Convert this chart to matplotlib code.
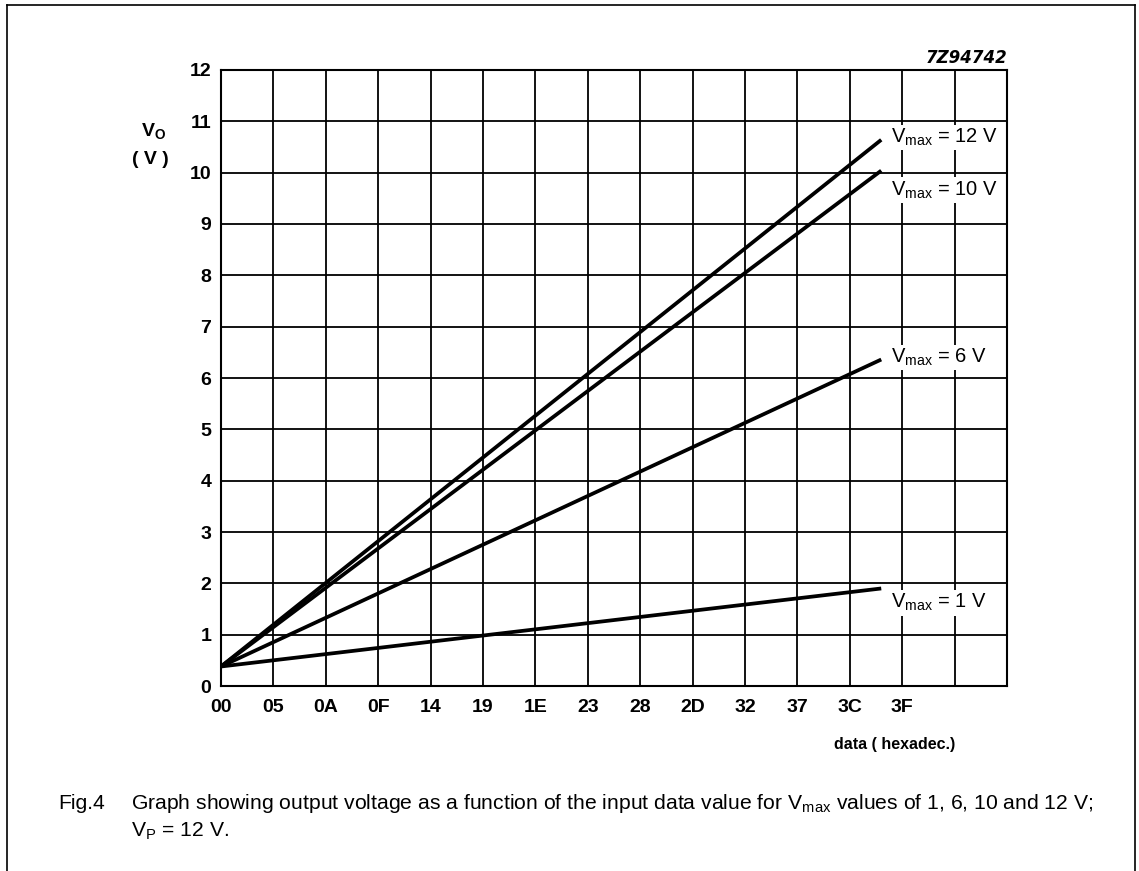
import matplotlib
matplotlib.use("Agg")
import matplotlib.pyplot as plt
from matplotlib.lines import Line2D

plt.rcParams["font.family"] = ["Liberation Sans", "DejaVu Sans"]
plt.rcParams["mathtext.default"] = "regular"

# Input data code (decimal value of the hex code) at the ends of each line
data_codes = [0x00, 0x3F]
# Output voltage (V) read at those codes
vo_12v = [0.38, 10.64]
vo_10v = [0.38, 10.04]
vo_6v = [0.38, 6.36]
vo_1v = [0.38, 1.90]

series_labels = ["V$_{max}$ = 12 V", "V$_{max}$ = 10 V", "V$_{max}$ = 6 V", "V$_{max}$ = 1 V"]
# Label anchor (x in data code, y in volts)
label_pos = [(63.9, 10.68), (63.9, 9.66), (63.9, 6.40), (63.9, 1.62)]

x_tick_labels = ["00", "05", "0A", "0F", "14", "19", "1E", "23", "28", "2D",
                 "32", "37", "3C", "3F"]
y_ticks = list(range(0, 13))

fig = plt.figure(figsize=(11.39, 8.71), dpi=100)
W, H = 1139, 871

# Frame around the figure (top, left and right rules)
fig.add_artist(Line2D([7 / W, 1135 / W], [1 - 5 / H, 1 - 5 / H], color="black", lw=1.2))
fig.add_artist(Line2D([7 / W, 7 / W], [0, 1 - 5 / H], color="black", lw=1.2))
fig.add_artist(Line2D([1135 / W, 1135 / W], [0, 1 - 5 / H], color="black", lw=1.2))

left, right, top, bottom = 221, 1007, 70, 686
ax = fig.add_axes([left / W, 1 - bottom / H, (right - left) / W, (bottom - top) / H])
ax.set_xlim(0, 75)
ax.set_ylim(0, 12)

# Grid: every 5 codes horizontally, every volt vertically
ax.set_xticks(range(0, 76, 5), minor=True)
ax.set_xticks([i * 5 for i in range(len(x_tick_labels))])
ax.set_xticklabels(x_tick_labels, fontsize=14, fontweight="bold")
ax.set_yticks(y_ticks)
ax.set_yticklabels([str(v) for v in y_ticks], fontsize=14, fontweight="bold")
ax.tick_params(which="both", length=0)
ax.tick_params(axis="x", pad=9)
ax.tick_params(axis="y", pad=7)
ax.grid(True, which="both", color="black", lw=1.3)
ax.set_axisbelow(True)
for s in ax.spines.values():
    s.set_linewidth(1.5)

for vals in (vo_12v, vo_10v, vo_6v, vo_1v):
    ax.plot(data_codes, vals, color="black", lw=2.7, solid_capstyle="butt", zorder=3)

for text, (lx, ly) in zip(series_labels, label_pos):
    ax.text(lx, ly, text, fontsize=14.5, ha="left", va="center", zorder=4,
            bbox=dict(facecolor="white", edgecolor="none", pad=1.5))

# Axis titles
fig.text(154 / W, 1 - 131 / H, "V$_{O}$", fontsize=14, fontweight="bold", ha="center", va="center")
fig.text(150 / W, 1 - 159 / H, "( V )", fontsize=14, fontweight="bold", ha="center", va="center")
fig.text(895 / W, 1 - 744 / H, "data ( hexadec.)", fontsize=11.5, fontweight="bold", ha="center", va="center")
fig.text(1007 / W, 1 - 58 / H, "7Z94742", fontsize=12, fontweight="bold", style="italic",
         family=["DejaVu Sans"], ha="right", va="center")

# Caption
fig.text(58 / W, 1 - 803 / H, "Fig.4", fontsize=15.2, ha="left", va="center")
fig.text(131 / W, 1 - 803 / H,
         "Graph showing output voltage as a function of the input data value for V$_{max}$ values of 1, 6, 10 and 12 V;",
         fontsize=15.2, ha="left", va="center")
fig.text(131 / W, 1 - 831 / H, "V$_{P}$ = 12 V.", fontsize=15.2, ha="left", va="center")

fig.savefig("out.png", dpi=100)
